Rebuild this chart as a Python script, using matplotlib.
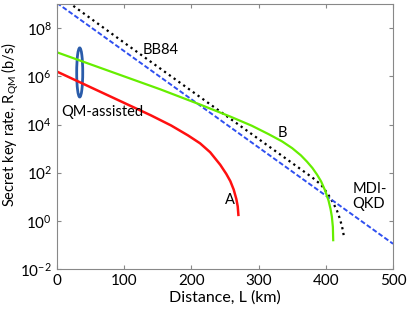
import numpy as np
import matplotlib
matplotlib.use('Agg')
import matplotlib.pyplot as plt
from matplotlib.patches import Ellipse

plt.rcParams['font.family'] = ['Lato', 'DejaVu Sans']
plt.rcParams['mathtext.fontset'] = 'custom'
plt.rcParams['mathtext.rm'] = 'Lato'
plt.rcParams['mathtext.it'] = 'Lato:italic'

# curve A (red): distance in km, log10 of key rate
dist_a = [0, 50, 100, 140, 170, 195, 213, 228, 243, 252, 258, 263, 267, 269, 270]
log_a = [6.2, 5.55, 4.9, 4.38, 3.96, 3.55, 3.22, 2.85, 2.33, 1.95, 1.65, 1.3, 0.9, 0.6, 0.25]

# curve B (green)
dist_b = [0, 34, 100, 154, 213, 258, 290, 315, 335, 350, 363, 372, 380, 387, 393, 399, 404, 407, 409, 410.5, 411]
log_b = [7.0, 6.66, 6.0, 5.46, 4.83, 4.33, 3.95, 3.6, 3.3, 3.02, 2.72, 2.46, 2.2, 1.92, 1.64, 1.26, 0.85, 0.5, 0.18, -0.25, -0.8]

# BB84 (black dotted)
dist_bb = [0, 100, 200, 300, 350, 380, 393, 403, 411, 417, 421, 424, 426, 427]
log_bb = [9.42, 7.4, 5.4, 3.4, 2.4, 1.8, 1.5, 1.12, 0.75, 0.4, 0.08, -0.22, -0.48, -0.7]

# MDI-QKD (blue dashed)
dist_mdi = [0, 500]
log_mdi = [9.05, -0.95]

fig = plt.figure(figsize=(4.09, 3.14), dpi=100)
ax = fig.add_axes([0.139, 0.143, 0.822, 0.844])

ax.semilogy(dist_bb, 10**np.array(log_bb), ':', color='black', lw=1.6)
ax.semilogy(dist_mdi, 10**np.array(log_mdi), '--', color='#2f4ff0', lw=1.4, dashes=(2.5, 1.2))
ax.semilogy(dist_b, 10**np.array(log_b), '-', color='#66ee00', lw=1.6)
ax.semilogy(dist_a, 10**np.array(log_a), '-', color='#ff1010', lw=1.8)

ax.set_xlim(0, 500)
ax.set_ylim(1e-2, 1e9)
ax.set_xticks([0, 100, 200, 300, 400, 500])
ax.set_yticks([1e-2, 1e0, 1e2, 1e4, 1e6, 1e8])
ax.yaxis.set_minor_locator(matplotlib.ticker.NullLocator())
ax.tick_params(direction='in', top=True, right=True, labelsize=11, color='#888888', length=3)
for s in ax.spines.values():
    s.set_color('#888888')

ax.set_xlabel('Distance, L (km)', fontsize=11.5, labelpad=2)
ax.set_ylabel('Secret key rate, R$_{\\mathrm{QM}}$ (b/s)', fontsize=10.5)
ax.yaxis.set_label_coords(-0.106, 0.545)

ax.text(154, 10**7.1, 'BB84', fontsize=10.5, ha='center', va='center')
ax.text(7, 10**4.54, 'QM-assisted', fontsize=10.5, ha='left', va='center')
ax.text(336, 10**3.65, 'B', fontsize=10.5, ha='center', va='center')
ax.text(258, 10**0.85, 'A', fontsize=10.5, ha='center', va='center')
ax.text(440, 10**1.0, 'MDI-\nQKD', fontsize=10.5, ha='left', va='center', linespacing=1.1)

ax.add_patch(Ellipse((0.068, 0.742), 0.018, 0.185, transform=ax.transAxes,
                     fill=False, edgecolor='#2a5caa', lw=2))

fig.savefig('out.png', dpi=100)
